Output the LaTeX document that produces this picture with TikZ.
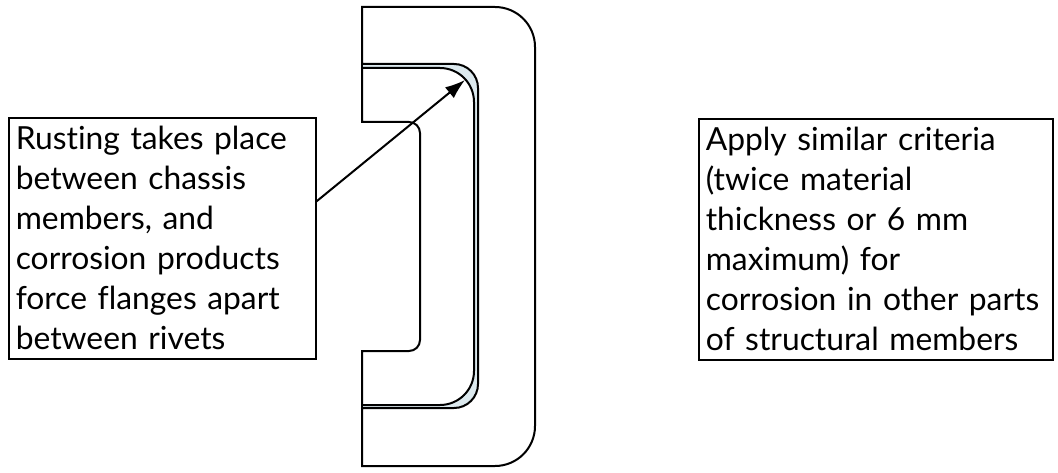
\documentclass[tikz,border=0pt]{standalone}
\usepackage{fontspec}
\setmainfont{Lato}[Ligatures=NoCommon]
\usetikzlibrary{arrows.meta}
\definecolor{gapblue}{HTML}{DCE9EE}
\tikzset{
  notebox/.style={draw, thick, anchor=north west, align=left, inner xsep=3.5pt,
    minimum height=120.5pt, font=\fontsize{15.9}{20}\selectfont}
}

\begin{document}
\begin{tikzpicture}[>={Latex[length=10pt,width=7pt]}, line width=1pt, x=0.5pt, y=0.5pt]
\useasboundingbox (0,0) rectangle (1058,472);

% gap between the two channels
\fill[gapblue] (362,408) -- (454,408) arc[start angle=90,end angle=0,radius=12pt]
  -- (478,88) arc[start angle=0,end angle=-90,radius=12pt] -- (362,64) -- cycle;
\fill[white] (362,404) -- (440,404) arc[start angle=90,end angle=0,radius=17pt]
  -- (474,101) arc[start angle=0,end angle=-90,radius=17pt] -- (362,67) -- cycle;

% outer channel
\draw (362,408) -- (454,408) arc[start angle=90,end angle=0,radius=12pt]
  -- (478,88) arc[start angle=0,end angle=-90,radius=12pt] -- (362,64)
  -- (362,6) -- (495,6) arc[start angle=-90,end angle=0,radius=20pt]
  -- (535,425) arc[start angle=0,end angle=90,radius=20pt] -- (362,465) -- cycle;

% inner channel
\draw (362,404) -- (440,404) arc[start angle=90,end angle=0,radius=17pt]
  -- (474,101) arc[start angle=0,end angle=-90,radius=17pt] -- (362,67)
  -- (362,121) -- (409,121) arc[start angle=-90,end angle=0,radius=5.5pt]
  -- (420,339) arc[start angle=0,end angle=90,radius=5.5pt] -- (362,350) -- cycle;
\draw (362,64) -- (362,67);
\draw (362,404) -- (362,408);

\node[notebox, text width=146.5pt] (rust) at (8,355)
  {Rusting takes place\\between chassis\\members, and\\corrosion products\\force flanges apart\\between rivets};
\node[notebox, text width=170pt] (criteria) at (698,354)
  {Apply similar criteria\\(twice material\\thickness or 6 mm\\maximum) for\\corrosion in other parts\\of structural members};

\coordinate (corner) at (465,392);
\draw[->] ([yshift=18.5pt]rust.east) -- (corner);

\end{tikzpicture}
\end{document}
